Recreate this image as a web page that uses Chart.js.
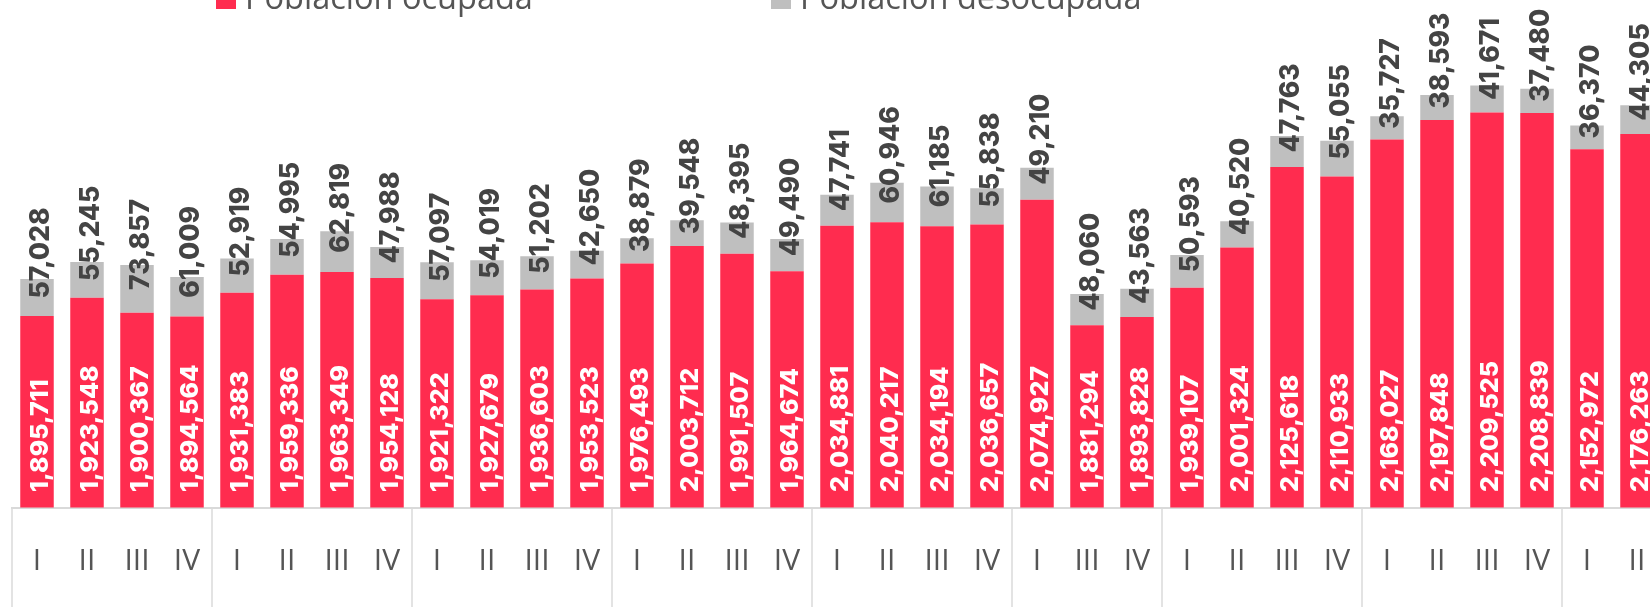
<!DOCTYPE html>
<html lang="es">
<head>
<meta charset="utf-8">
<title>Población ocupada y desocupada</title>
<script src="https://cdn.jsdelivr.net/npm/chart.js@4.4.1/dist/chart.umd.min.js"></script>
<style>
  html, body { margin: 0; padding: 0; background: #fff; overflow: hidden; }
  #wrap { position: relative; width: 1700px; height: 607px; }
</style>
</head>
<body>
<div id="wrap"><canvas id="chart" width="1700" height="607"></canvas></div>
<script>
// ── Data (quarters, grouped by year; one year has no quarter II) ──
const quarters = [
  'I', 'II', 'III', 'IV',
  'I', 'II', 'III', 'IV',
  'I', 'II', 'III', 'IV',
  'I', 'II', 'III', 'IV',
  'I', 'II', 'III', 'IV',
  'I', 'III', 'IV',
  'I', 'II', 'III', 'IV',
  'I', 'II', 'III', 'IV',
  'I', 'II'
];

const ocupada = [
  1895711, 1923548, 1900367, 1894564,
  1931383, 1959336, 1963349, 1954128,
  1921322, 1927679, 1936603, 1953523,
  1976493, 2003712, 1991507, 1964674,
  2034881, 2040217, 2034194, 2036657,
  2074927, 1881294, 1893828,
  1939107, 2001324, 2125618, 2110933,
  2168027, 2197848, 2209525, 2208839,
  2152972, 2176263
];

const desocupada = [
  57028, 55245, 73857, 61009,
  52919, 54995, 62819, 47988,
  57097, 54019, 51202, 42650,
  38879, 39548, 48395, 49490,
  47741, 60946, 61185, 55838,
  49210, 48060, 43563,
  50593, 40520, 47763, 55055,
  35727, 38593, 41671, 37480,
  36370, 44305
];

const seriesNames = ['Población ocupada', 'Población desocupada'];

const RED = '#ff2c4f';
const GRAY = '#bfbfbf';
const fmt = v => v.toLocaleString('en-US');

// ── Rotated value labels inside / above the bars ──
const barLabels = {
  id: 'barLabels',
  afterDatasetsDraw(chart) {
    const { ctx, chartArea } = chart;
    ctx.save();
    ctx.textAlign = 'left';
    ctx.textBaseline = 'alphabetic';
    chart.data.datasets.forEach((ds, di) => {
      const size = di === 0 ? 25 : 26.5;
      const capH = size * 0.727;
      ctx.font = `800 ${size}px Inter`;
      const meta = chart.getDatasetMeta(di);
      meta.data.forEach((bar, i) => {
        const yStart = di === 0 ? chartArea.bottom - 15.5 : (bar.y + bar.base) / 2 + 1;
        ctx.save();
        ctx.translate(bar.x + 2 + capH / 2, yStart);
        ctx.rotate(-Math.PI / 2);
        ctx.fillStyle = di === 0 ? '#ffffff' : '#444444';
        ctx.fillText(fmt(ds.data[i]), 0, 0);
        ctx.restore();
      });
    });
    ctx.restore();
  }
};

// ── Vertical separators between years under the axis ──
const groupLines = {
  id: 'groupLines',
  afterDraw(chart) {
    const { ctx, chartArea, scales: { x } } = chart;
    const step = x.width / quarters.length;
    ctx.save();
    ctx.strokeStyle = '#dadada';
    ctx.lineWidth = 1.5;
    quarters.forEach((q, i) => {
      if (q !== 'I') return;
      const px = x.getPixelForValue(i) - step / 2;
      ctx.beginPath();
      ctx.moveTo(px, chartArea.bottom);
      ctx.lineTo(px, chart.height);
      ctx.stroke();
    });
    ctx.restore();
  }
};

// ── Legend (partly above the visible area, as in the original) ──
const topLegend = {
  id: 'topLegend',
  afterDraw(chart) {
    const { ctx } = chart;
    const lefts = [216, 771];
    ctx.save();
    ctx.font = '400 32.5px "Open Sans"';
    ctx.textAlign = 'left';
    ctx.textBaseline = 'alphabetic';
    chart.data.datasets.forEach((ds, i) => {
      ctx.fillStyle = ds.backgroundColor;
      ctx.fillRect(lefts[i], -11, 20, 20);
      ctx.fillStyle = '#555555';
      ctx.fillText(ds.label, lefts[i] + 29, 8.5);
    });
    ctx.restore();
  }
};

new Chart(document.getElementById('chart'), {
  type: 'bar',
  data: {
    labels: quarters,
    datasets: [
      { label: seriesNames[0], data: ocupada, backgroundColor: RED },
      { label: seriesNames[1], data: desocupada, backgroundColor: GRAY }
    ]
  },
  options: {
    responsive: false,
    animation: false,
    layout: { padding: { top: 21.5, left: 12, right: 38, bottom: 0 } },
    datasets: { bar: { barPercentage: 0.67, categoryPercentage: 1.0 } },
    plugins: {
      legend: { display: false },
      tooltip: { enabled: false }
    },
    scales: {
      x: {
        stacked: true,
        grid: { display: false },
        border: { display: true, color: '#d9d9d9', width: 2 },
        ticks: {
          autoSkip: false,
          maxRotation: 0,
          padding: 28,
          color: '#555555',
          font: { family: 'Open Sans', size: 30, weight: 400 }
        },
        afterFit(axis) { axis.height = 99.5; }
      },
      y: {
        stacked: true,
        display: false,
        min: 1600000,
        max: 2350000
      }
    }
  },
  plugins: [barLabels, groupLines, topLegend]
});
</script>
</body>
</html>
